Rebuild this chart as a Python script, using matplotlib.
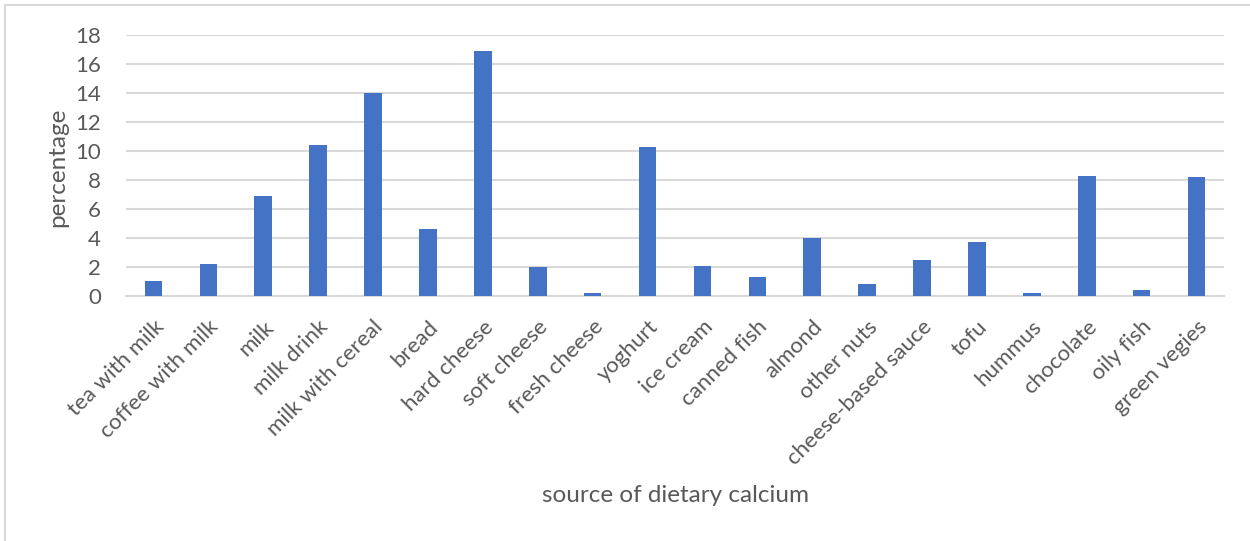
import matplotlib
matplotlib.use("Agg")
import matplotlib.pyplot as plt
from matplotlib.patches import Rectangle

sources = [
    "tea with milk", "coffee with milk", "milk", "milk drink", "milk with cereal",
    "bread", "hard cheese", "soft cheese", "fresh cheese", "yoghurt",
    "ice cream", "canned fish", "almond", "other nuts", "cheese-based sauce",
    "tofu", "hummus", "chocolate", "oily fish", "green vegies",
]
percentages = [
    1.0, 2.2, 6.9, 10.4, 14.0,
    4.6, 16.9, 2.0, 0.2, 10.3,
    2.1, 1.3, 4.0, 0.8, 2.5,
    3.7, 0.2, 8.3, 0.4, 8.2,
]
y_ticks = [0, 2, 4, 6, 8, 10, 12, 14, 16, 18]

text_grey = "#595959"
grid_grey = "#D9D9D9"
plt.rcParams["font.family"] = ["Lato", "DejaVu Sans"]

fig = plt.figure(figsize=(12.5, 5.41), dpi=100)
ax = fig.add_axes([126 / 1250, 0.453, 1098 / 1250, 0.482])

x = list(range(len(sources)))
ax.bar(x, percentages, width=0.32, color="#4472C4", zorder=3)

ax.set_xlim(-0.5, len(sources) - 0.5)
ax.set_ylim(0, 18)
ax.set_yticks(y_ticks)
ax.set_xticks(x)
ax.set_xticklabels(sources, rotation=45, ha="right", rotation_mode="anchor",
                   fontsize=16, color=text_grey)
ax.tick_params(axis="y", labelsize=16, labelcolor=text_grey, length=0, pad=18)
ax.tick_params(axis="x", length=0, pad=15)

ax.grid(axis="y", color=grid_grey, linewidth=1.5, zorder=0)
for side in ["top", "right", "left"]:
    ax.spines[side].set_visible(False)
ax.spines["bottom"].set_color(grid_grey)
ax.spines["bottom"].set_linewidth(1.5)

fig.text(58 / 1250, 1 - 167 / 541, "percentage", rotation=90, ha="center",
         va="center", fontsize=17.5, color=text_grey)
fig.text(675 / 1250, 1 - 495 / 541, "source of dietary calcium", ha="center",
         va="center", fontsize=17.5, color=text_grey)

# chart frame
fig.patches.append(Rectangle((5 / 1250, -0.05), 1.2, 1 - 5 / 541 + 0.05,
                             transform=fig.transFigure, fill=False,
                             edgecolor=grid_grey, linewidth=1.5))

fig.savefig("out.png", dpi=100)
